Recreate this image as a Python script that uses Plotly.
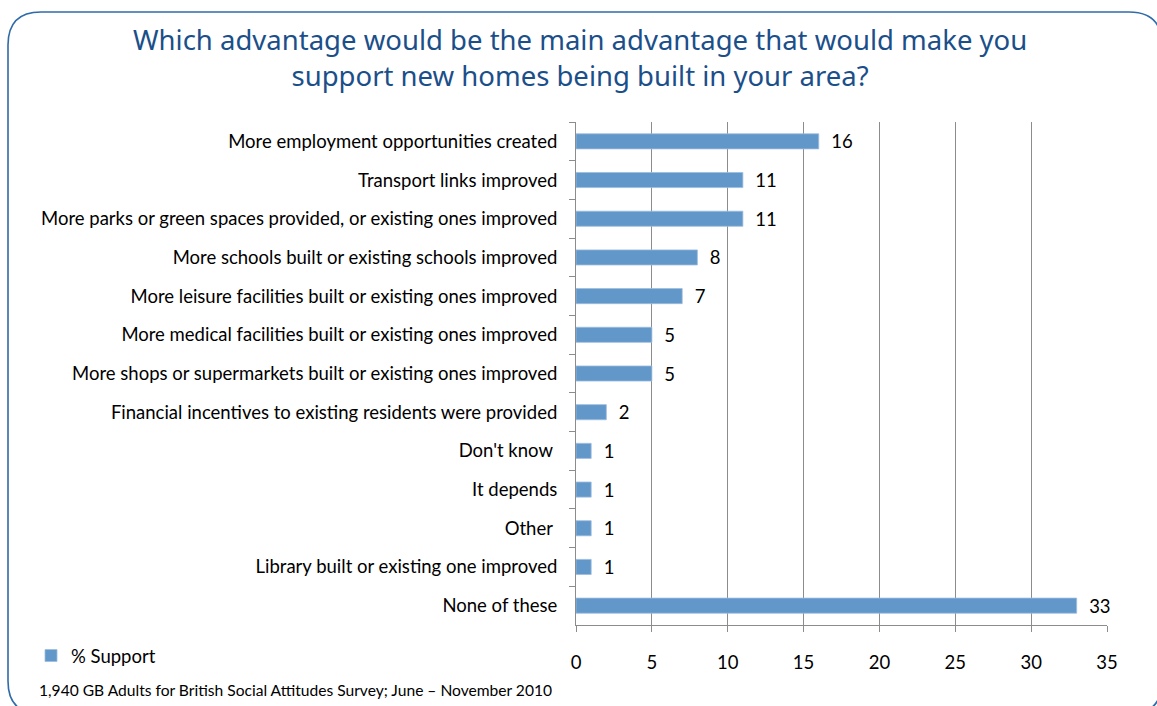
import plotly.graph_objects as go

categories = [
    "More employment opportunities created",
    "Transport links improved",
    "More parks or green spaces provided, or existing ones improved",
    "More schools built or existing schools improved",
    "More leisure facilities built or existing ones improved",
    "More medical facilities built or existing ones improved",
    "More shops or supermarkets built or existing ones improved",
    "Financial incentives to existing residents were provided",
    "Don't know ",
    "It depends",
    "Other ",
    "Library built or existing one improved",
    "None of these",
]
support = [16, 11, 11, 8, 7, 5, 5, 2, 1, 1, 1, 1, 33]
x_ticks = [0, 5, 10, 15, 20, 25, 30, 35]

W, H = 1157, 706
L, R, T, B = 576, 1107, 122, 625  # plot area pixel bounds


def px(x):
    return (x - L) / (R - L)


def py(y):
    return (B - y) / (B - T)


BAR = "#6197C9"
GRID = "#8C8C8C"
FONT = "Lato, Carlito, 'Liberation Sans', sans-serif"
FS = 18.5

fig = go.Figure()
fig.add_trace(go.Bar(
    x=support,
    y=categories,
    orientation="h",
    name="% Support",
    marker=dict(color=BAR, line=dict(color="#9DBDE0", width=0.8)),
    text=support,
    texttemplate="  %{x}",
    textposition="outside",
    constraintext="none",
    textfont=dict(size=FS, color="#000000", family=FONT),
    cliponaxis=False,
))

# rounded border
x0, x1 = px(8), px(1162)
y0, y1 = py(12), py(714)
rx = 33 / (R - L)
ry = 33 / (B - T)
path = (
    f"M {x0},{y0 - ry} Q {x0},{y0} {x0 + rx},{y0} "
    f"L {x1 - rx},{y0} Q {x1},{y0} {x1},{y0 - ry} "
    f"L {x1},{y1 + ry} Q {x1},{y1} {x1 - rx},{y1} "
    f"L {x0 + rx},{y1} Q {x0},{y1} {x0},{y1 + ry} Z"
)
fig.add_shape(type="path", path=path, xref="paper", yref="paper",
              line=dict(color="#2F6BA8", width=1.6), fillcolor="rgba(0,0,0,0)",
              layer="above")

# title
fig.add_annotation(
    text="Which advantage would be the main advantage that would make you<br>support new homes being built in your area?",
    xref="paper", yref="paper", x=px(580), y=py(58), xanchor="center", yanchor="middle",
    showarrow=False, align="center",
    font=dict(size=27.5, color="#1B4F8A", family="'Noto Sans', 'Open Sans', sans-serif"),
)

fig.add_annotation(
    text="1,940 GB Adults for British Social Attitudes Survey; June – November 2010",
    xref="paper", yref="paper", x=px(37), y=py(690), xanchor="left", yanchor="middle",
    showarrow=False, font=dict(size=15.6, color="#000000", family=FONT),
)

fig.update_layout(
    width=W, height=H,
    margin=dict(l=L, r=W - R, t=T, b=H - B, pad=0),
    paper_bgcolor="white", plot_bgcolor="white",
    bargap=0.61,
    showlegend=True,
    legend=dict(
        x=px(31), y=py(656), xanchor="left", yanchor="middle",
        xref="paper", yref="paper",
        font=dict(size=FS, color="#000000", family=FONT),
        bgcolor="rgba(0,0,0,0)", itemwidth=30,
    ),
    xaxis=dict(
        range=[0, 35], tickvals=x_ticks, ticktext=[str(v) for v in x_ticks],
        showgrid=True, gridcolor=GRID, gridwidth=1,
        zeroline=False, showline=True, linecolor=GRID, linewidth=1,
        ticks="outside", ticklen=6, tickcolor=GRID,
        tickfont=dict(size=FS, color="#000000", family=FONT),
        ticklabelstandoff=15, fixedrange=True,
    ),
    yaxis=dict(
        autorange="reversed", type="category",
        showline=True, linecolor=GRID, linewidth=1,
        ticks="outside", ticklen=6, tickcolor=GRID, tickson="boundaries",
        tickfont=dict(size=FS, color="#000000", family=FONT),
        ticklabelstandoff=14, showgrid=False, fixedrange=True,
    ),
)

fig.write_html("out.html")
